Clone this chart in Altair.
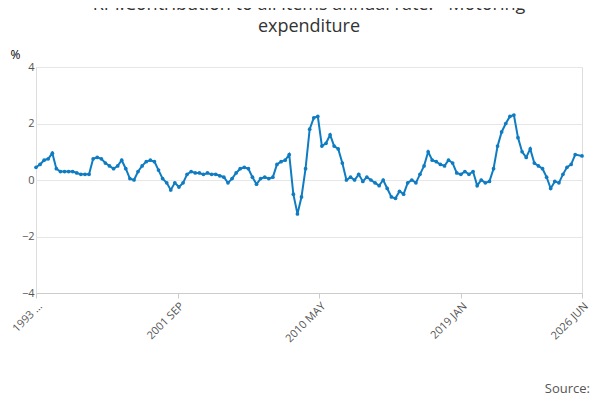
import altair as alt
import pandas as pd

SERIES = "RPI:Contribution to all items annual rate: - Motoring expenditure"

# quarterly readings, 1993 Q1 .. 2026 Q2
VALUES = [
    0.45, 0.55, 0.7, 0.75,
    0.95, 0.4, 0.3, 0.3,
    0.3, 0.3, 0.25, 0.2,
    0.2, 0.2, 0.75, 0.8,
    0.75, 0.6, 0.5, 0.4,
    0.5, 0.7, 0.4, 0.05,
    0.0, 0.3, 0.5, 0.65,
    0.7, 0.65, 0.35, 0.05,
    -0.1, -0.35, -0.1, -0.25,
    -0.1, 0.2, 0.3, 0.25,
    0.25, 0.2, 0.25, 0.2,
    0.2, 0.15, 0.1, -0.1,
    0.05, 0.25, 0.4, 0.45,
    0.4, 0.1, -0.15, 0.05,
    0.1, 0.05, 0.1, 0.55,
    0.65, 0.7, 0.9, -0.5,
    -1.2, -0.6, 0.4, 1.8,
    2.2, 2.25, 1.2, 1.3,
    1.6, 1.2, 1.1, 0.6,
    0.0, 0.1, 0.0, 0.2,
    -0.05, 0.1, 0.0, -0.1,
    -0.2, 0.0, -0.3, -0.6,
    -0.65, -0.4, -0.5, -0.1,
    0.0, -0.1, 0.2, 0.5,
    1.0, 0.7, 0.65, 0.55,
    0.5, 0.7, 0.6, 0.25,
    0.2, 0.3, 0.2, 0.3,
    -0.2, 0.0, -0.1, -0.05,
    0.4, 1.2, 1.7, 2.0,
    2.25, 2.3, 1.5, 1.0,
    0.8, 1.1, 0.6, 0.5,
    0.4, 0.1, -0.3, -0.05,
    -0.1, 0.2, 0.45, 0.55,
    0.9, 0.85,
]
DATES = list(pd.date_range("1993-01-01", periods=len(VALUES) - 1, freq="QS")) + [pd.Timestamp("2026-06-01")]
TICK_DATES = ["1993-01-01", "2001-09-01", "2010-05-01", "2019-01-01", "2026-06-01"]

df = pd.DataFrame({"date": DATES, "value": VALUES, "series": SERIES})

BLUE = "#0f7cc2"
W, H = 546, 226

base = alt.Chart(df).encode(
    x=alt.X(
        "date:T",
        title=None,
        scale=alt.Scale(domain=["1993-01-01", "2026-06-01"]),
        axis=alt.Axis(
            values=[pd.Timestamp(d).isoformat() for d in TICK_DATES],
            labelExpr="year(datum.value) == 1993 ? '1993 …' : upper(timeFormat(datum.value, '%Y %b'))",
            labelAngle=-45,
            labelAlign="right",
            labelColor="#555",
            labelFontSize=11,
            grid=False,
            domainColor="#ccc",
            tickColor="#ccc",
        ),
    ),
    y=alt.Y(
        "value:Q",
        scale=alt.Scale(domain=[-4, 4]),
        axis=alt.Axis(
            values=[-4, -2, 0, 2, 4],
            title="%",
            titleAngle=0,
            titleAlign="left",
            titleBaseline="bottom",
            titleX=-26,
            titleY=-6,
            titleFontWeight="normal",
            titleFontSize=12,
            labelColor="#555",
            labelFontSize=11,
            domain=False,
            ticks=False,
            gridColor="#e6e6e6",
        ),
    ),
    color=alt.Color(
        "series:N",
        scale=alt.Scale(range=[BLUE]),
        legend=alt.Legend(
            title=None,
            orient="bottom",
            symbolType="stroke",
            symbolStrokeWidth=2,
            labelFontSize=13,
            labelColor="#333",
            offset=62,
        ),
    ),
)

line = base.mark_line(strokeWidth=2, point=alt.OverlayMarkDef(size=14, filled=True))

source = alt.Chart(pd.DataFrame({"t": ["Source:"]})).mark_text(
    align="right", fontSize=13, color="#555"
).encode(text="t:N", x=alt.value(W + 8), y=alt.value(H + 96))

chart = (
    alt.layer(line, source)
    .properties(
        width=W,
        height=H,
        title=alt.TitleParams(
            ["RPI:Contribution to all items annual rate: - Motoring", "expenditure"],
            fontSize=18,
            fontWeight="normal",
            color="#333",
            offset=12,
            lineHeight=22,
        ),
        autosize=alt.AutoSizeParams(type="none"),
        padding={"left": 28, "top": 59, "right": 10, "bottom": 100},
    )
    .configure_view(stroke=None)
    .configure(font="Open Sans")
)

chart.save("out.html", embed_options={"renderer": "svg", "actions": False})
